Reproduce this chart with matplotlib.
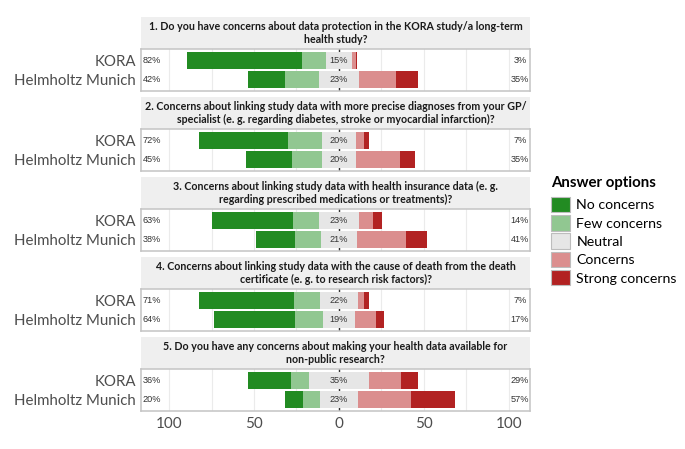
import numpy as np
import matplotlib.pyplot as plt
from matplotlib.patches import Patch

# -----------------------------
# DATA (percent of respondents)
# -----------------------------
questions = [
    "1. Do you have concerns about data protection in the KORA study/a long-term\nhealth study?",
    "2. Concerns about linking study data with more precise diagnoses from your GP/\nspecialist (e. g. regarding diabetes, stroke or myocardial infarction)?",
    "3. Concerns about linking study data with health insurance data (e. g.\nregarding prescribed medications or treatments)?",
    "4. Concerns about linking study data with the cause of death from the death\ncertificate (e. g. to research risk factors)?",
    "5. Do you have any concerns about making your health data available for\nnon-public research?",
]
groups = ["KORA", "Helmholtz Munich"]

no_concerns = [[68.0, 22.0], [52.6, 27.5], [47.4, 22.9], [55.9, 47.6], [25.3, 10.4]]
few_concerns = [[14.0, 20.0], [19.8, 17.5], [15.8, 15.3], [15.3, 16.1], [10.9, 9.8]]
neutral = [[15.0, 23.0], [20.2, 20.0], [23.0, 21.4], [22.0, 19.2], [34.8, 22.6]]
concerns = [[2.4, 22.0], [4.9, 25.7], [8.6, 28.6], [3.9, 12.4], [19.2, 31.0]]
strong_concerns = [[0.6, 13.0], [2.4, 9.3], [5.2, 12.2], [2.9, 4.7], [9.8, 26.2]]

answer_labels = ["No concerns", "Few concerns", "Neutral", "Concerns", "Strong concerns"]
colors = ["#228B22", "#91C791", "#E6E6E6", "#DB8E8E", "#B22222"]

# -----------------------------
# LAYOUT (pixel boxes)
# -----------------------------
W, H = 685, 449
fig = plt.figure(figsize=(W / 100, H / 100), dpi=100)

def px_axes(x0, y0, x1, y1):
    return fig.add_axes([x0 / W, 1 - y1 / H, (x1 - x0) / W, (y1 - y0) / H])

PANEL_L, PANEL_R = 141, 530
STRIP_H, PANEL_H, PERIOD, TOP = 32, 42, 80, 17
XLIM = (-116.5, 112.4)
BAR_H = 0.92

for q, text in enumerate(questions):
    top = TOP + q * PERIOD
    sax = px_axes(PANEL_L, top, PANEL_R, top + STRIP_H)
    sax.set_facecolor("#EFEFEF")
    sax.set_xticks([])
    sax.set_yticks([])
    for s in sax.spines.values():
        s.set_visible(False)
    sax.text(0.5, 0.5, text, ha="center", va="center", fontsize=7.7,
             fontweight="bold", family="Lato", color="#1A1A1A",
             linespacing=1.15, transform=sax.transAxes)

    ax = px_axes(PANEL_L, top + STRIP_H, PANEL_R, top + STRIP_H + PANEL_H)
    ypos = np.arange(1, len(groups) + 1)

    no = np.array(no_concerns[q])
    few = np.array(few_concerns[q])
    neu = np.array(neutral[q])
    con = np.array(concerns[q])
    strg = np.array(strong_concerns[q])

    # negative side (neutral split in half)
    ax.barh(ypos, -neu / 2, height=BAR_H, color=colors[2], zorder=3)
    ax.barh(ypos, -few, left=-neu / 2, height=BAR_H, color=colors[1], zorder=3)
    ax.barh(ypos, -no, left=-neu / 2 - few, height=BAR_H, color=colors[0], zorder=3)
    # positive side
    ax.barh(ypos, neu / 2, height=BAR_H, color=colors[2], zorder=3)
    ax.barh(ypos, con, left=neu / 2, height=BAR_H, color=colors[3], zorder=3)
    ax.barh(ypos, strg, left=neu / 2 + con, height=BAR_H, color=colors[4], zorder=3)

    for y, lo, mid, hi in zip(ypos, no + few, neu, con + strg):
        kw = dict(va="center", fontsize=6.6, family="Liberation Sans",
                  color="#333333", zorder=4)
        ax.text(-110, y, f"{round(lo)}%", ha="center", **kw)
        ax.text(0, y, f"{round(mid)}%", ha="center", **kw)
        ax.text(106.5, y, f"{round(hi)}%", ha="center", **kw)

    ax.axvline(0, color="#333333", lw=1.0, zorder=2)
    for g in np.arange(-100, 101, 25):
        ax.axvline(g, color="#EBEBEB", lw=0.8, zorder=1)

    ax.set_xlim(*XLIM)
    ax.set_ylim(2.6, 0.4)
    ax.set_yticks(ypos)
    ax.set_yticklabels(groups, fontsize=10.8, family="Lato", color="#4D4D4D")
    ax.tick_params(axis="y", length=0, pad=3.5)
    ax.set_xticks([-100, -50, 0, 50, 100])
    if q == len(questions) - 1:
        ax.set_xticklabels(["100", "50", "0", "50", "100"], fontsize=11,
                           family="Lato", color="#4D4D4D")
        ax.tick_params(axis="x", length=0, pad=4)
    else:
        ax.tick_params(axis="x", length=0, labelbottom=False)
    for s in ax.spines.values():
        s.set_color("#C4C4C4")
        s.set_linewidth(1.1)

# -----------------------------
# LEGEND
# -----------------------------
handles = [Patch(facecolor=c, edgecolor="#BDBDBD", linewidth=0.8) for c in colors]
leg = fig.legend(handles, answer_labels, loc="upper left",
                 bbox_to_anchor=(551 / W, 1 - 176 / H), frameon=False,
                 title="Answer options", prop={"family": "Lato", "size": 10.2},
                 title_fontproperties={"family": "Lato", "size": 10.8, "weight": "bold"},
                 handlelength=1.35, handleheight=1.3, labelspacing=0.2,
                 handletextpad=0.45, borderpad=0, borderaxespad=0)
leg._legend_box.align = "left"
leg._legend_box.sep = 5

fig.savefig("out.png", dpi=100)
